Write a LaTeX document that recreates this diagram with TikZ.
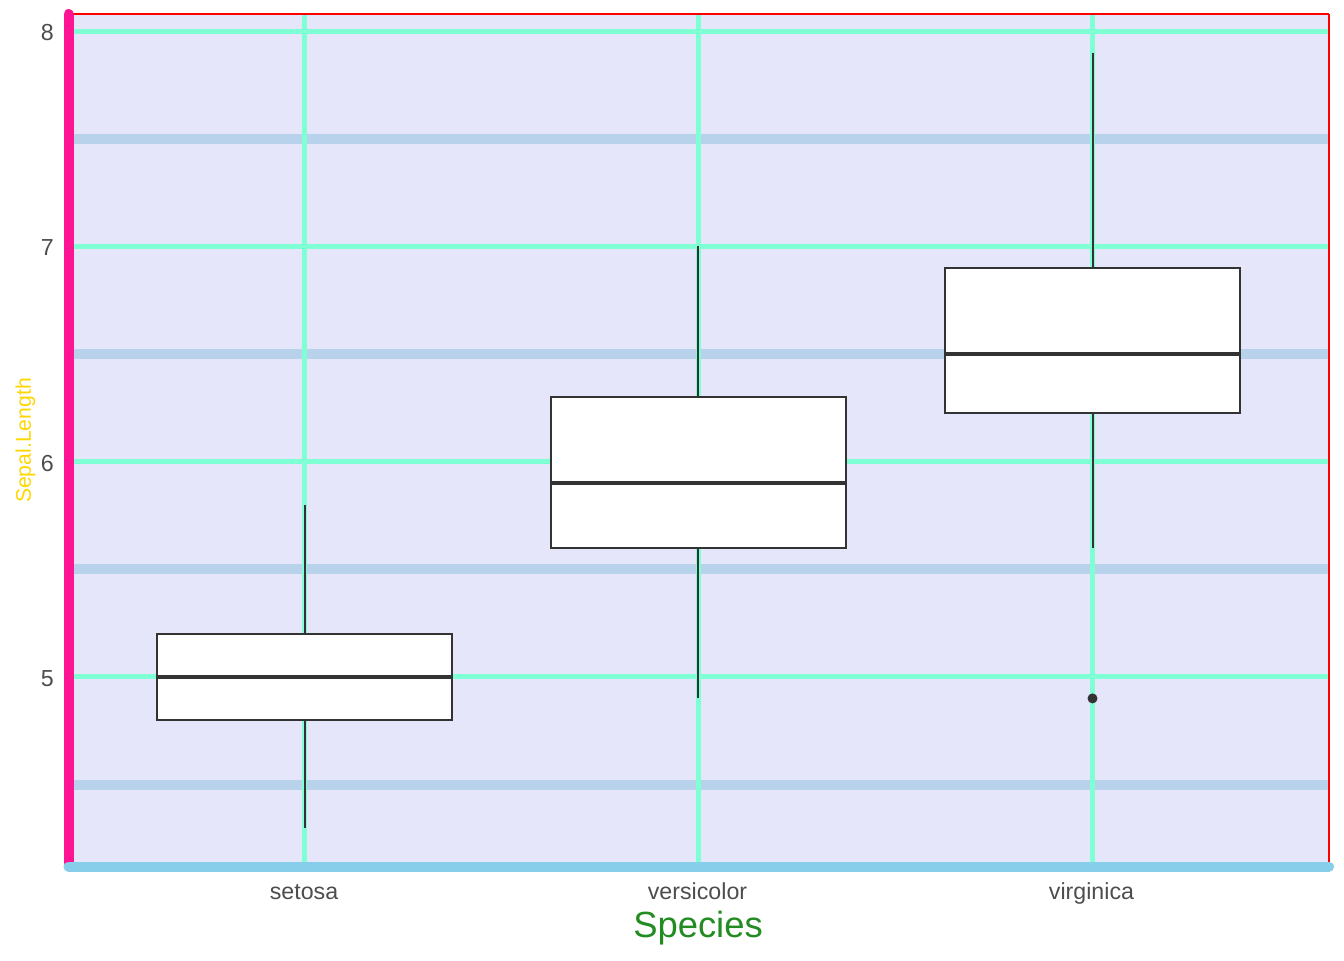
\documentclass[tikz,border=0pt]{standalone}
\usepackage{fontspec}
\setmainfont{Liberation Sans}
\definecolor{panelbg}{HTML}{E6E6FA}
\definecolor{majorgrid}{HTML}{7FFFD4}
\definecolor{minorgrid}{RGB}{185,210,235}
\definecolor{boxline}{HTML}{333333}
\definecolor{ticktext}{HTML}{4D4D4D}
\definecolor{pinkaxis}{HTML}{FF1493}
\definecolor{blueaxis}{HTML}{87CEEB}
\definecolor{titlegreen}{HTML}{228B22}
\definecolor{titlegold}{HTML}{FFD700}
\begin{document}
\begin{tikzpicture}[x=0.75pt,y=-0.75pt,
  minorline/.style={draw=minorgrid,line width=7.5pt},
  majorline/.style={draw=majorgrid,line width=3.75pt},
  boxstyle/.style={draw=boxline,fill=white,line width=1.5pt},
  medianline/.style={draw=boxline,line width=3pt},
  whisker/.style={draw=boxline,line width=1.5pt},
  ticklabel/.style={text=ticktext,inner sep=0pt,font=\fontsize{17.4}{20}\selectfont},
]
\useasboundingbox (0,0) rectangle (1344,960);
% panel
\fill[panelbg] (68,14) rectangle (1329,866);
% minor grid
\foreach \y in {784.6,569.3,354.0,138.7}
  \draw[minorline] (68,\y) -- (1329,\y);
% major grid
\foreach \y in {676.9,461.6,246.3,31.0}
  \draw[majorline] (68,\y) -- (1329,\y);
\foreach \x in {304.5,698,1092.5}
  \draw[majorline] (\x,14) -- (\x,866);
% panel border
\draw[red,line width=1.1pt] (68,14) -- (1329,14);
\draw[red,line width=1.8pt] (1329,14) -- (1329,866);

% setosa
\coordinate (sLo) at (304.5,827.6);
\coordinate (sHi) at (304.5,504.7);
\draw[whisker] (sLo) -- (304.5,719.9);
\draw[whisker] (sHi) -- (304.5,633.8);
\draw[boxstyle] (157,633.8) rectangle (452,719.9);
\draw[medianline] (157,676.9) -- (452,676.9);
% versicolor
\coordinate (vLo) at (698,698.4);
\coordinate (vHi) at (698,246.3);
\draw[whisker] (vLo) -- (698,547.7);
\draw[whisker] (vHi) -- (698,397.0);
\draw[boxstyle] (550.5,397.0) rectangle (845.5,547.7);
\draw[medianline] (550.5,483.1) -- (845.5,483.1);
% virginica
\coordinate (gLo) at (1092.5,547.7);
\coordinate (gHi) at (1092.5,52.5);
\draw[whisker] (gLo) -- (1092.5,413.1);
\draw[whisker] (gHi) -- (1092.5,267.8);
\draw[boxstyle] (945,267.8) rectangle (1240,413.1);
\draw[medianline] (945,354.0) -- (1240,354.0);
\fill[boxline] (1092.5,698.4) circle[radius=5];

% axes
\draw[pinkaxis,line width=7.5pt,line cap=round] (68.5,14) -- (68.5,866);
\draw[blueaxis,line width=7.5pt,line cap=round] (68.5,866.5) -- (1329,866.5);

% tick labels
\node[ticklabel,anchor=east] (t8) at (54,32.5) {8};
\node[ticklabel,anchor=east] (t7) at (54,247.8) {7};
\node[ticklabel,anchor=east] (t6) at (54,463.1) {6};
\node[ticklabel,anchor=east] (t5) at (54,678.4) {5};
\node[ticklabel,anchor=base] (xs) at (304,899) {setosa};
\node[ticklabel,anchor=base] (xv) at (697.5,899) {versicolor};
\node[ticklabel,anchor=base] (xg) at (1091.5,899) {virginica};
% titles
\node[inner sep=0pt,anchor=base,text=titlegreen,font=\fontsize{27.3}{31}\selectfont] (xt) at (698,937) {Species};
\node[inner sep=0pt,anchor=base,rotate=90,text=titlegold,font=\fontsize{15.9}{18}\selectfont] (yt) at (31,440.5) {Sepal.Length};
\end{tikzpicture}
\end{document}
